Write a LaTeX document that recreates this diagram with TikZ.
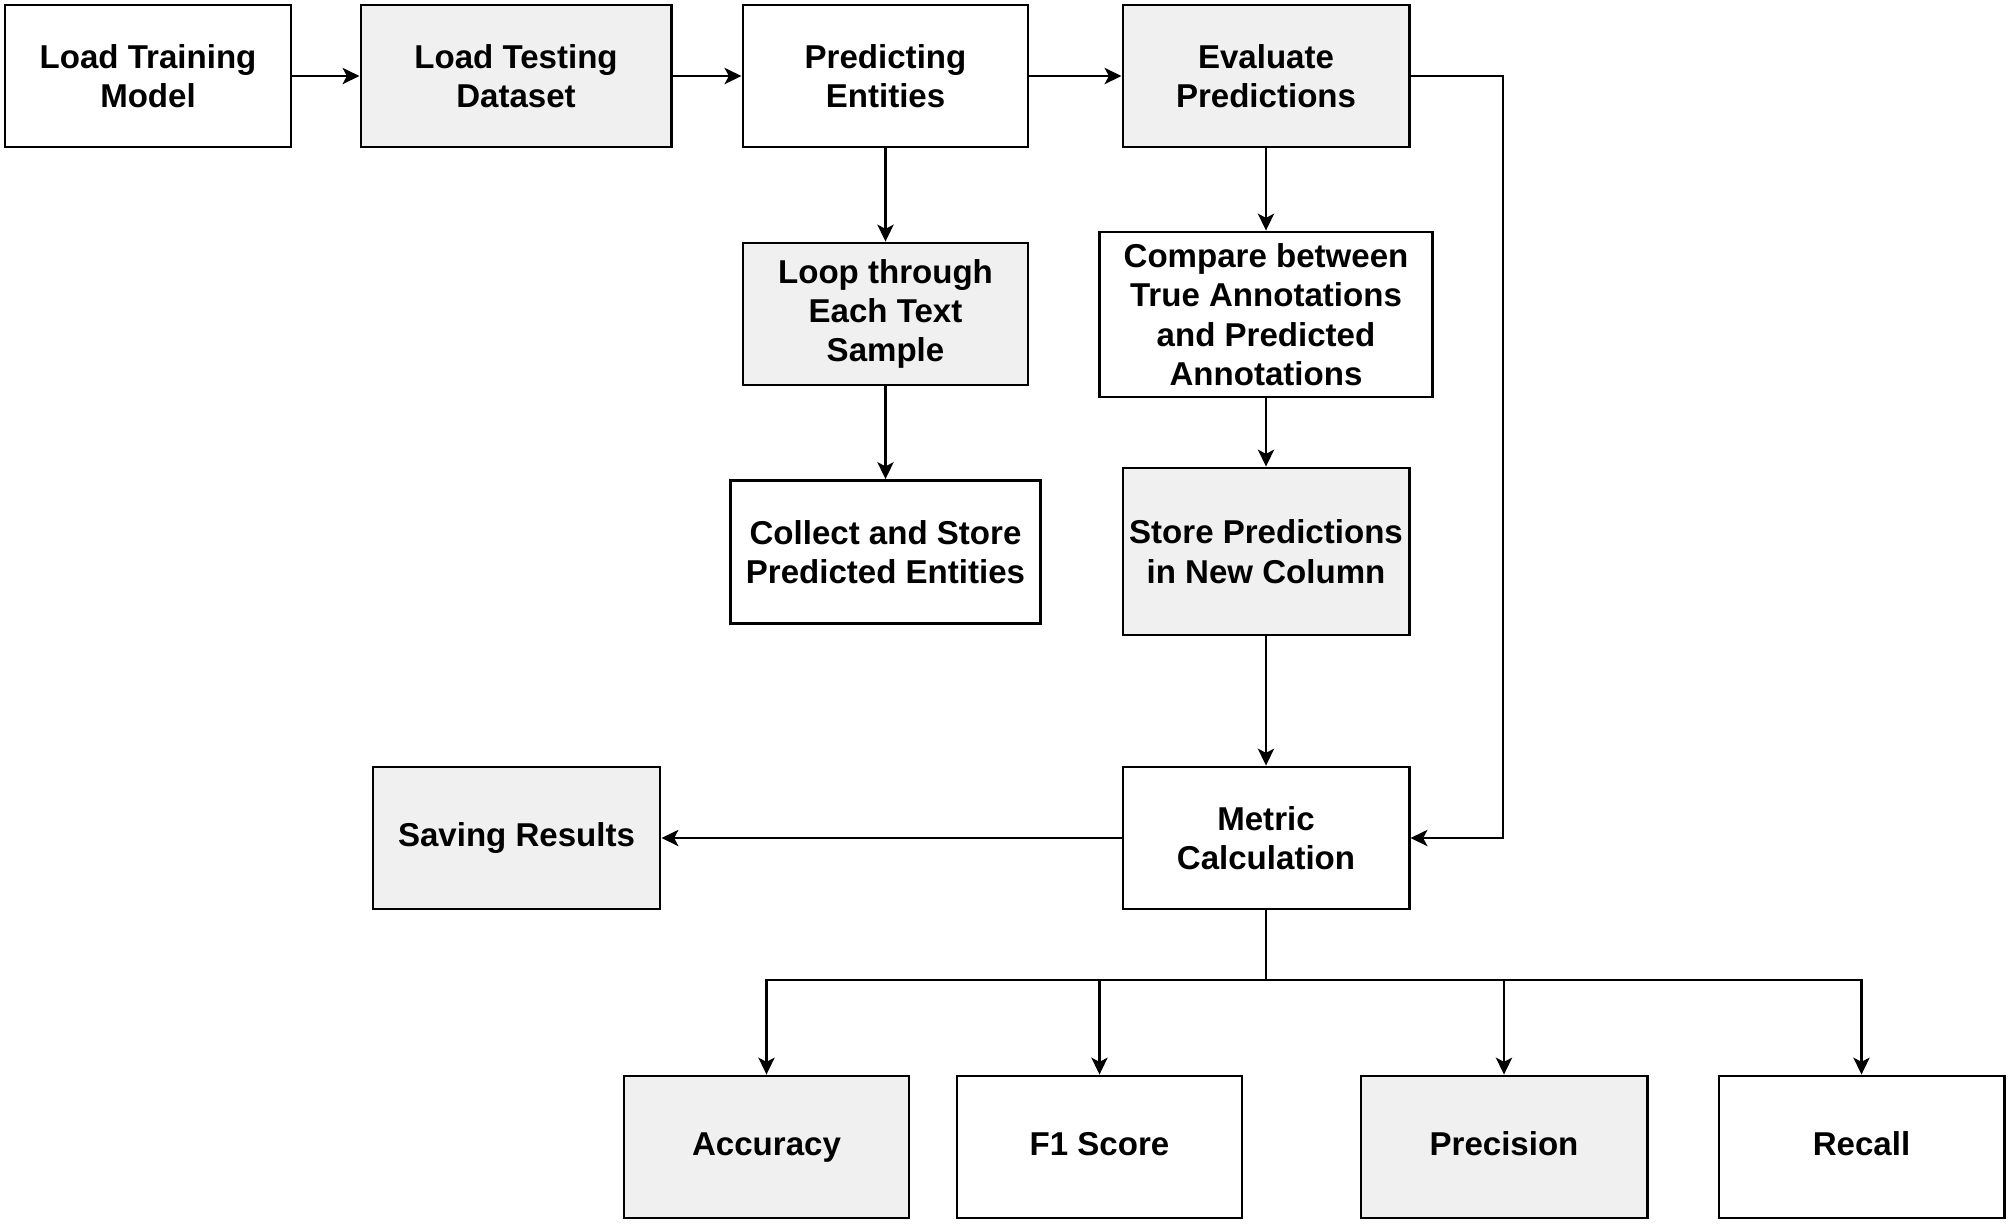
\documentclass[tikz,border=0pt]{standalone}
\usepackage{fontspec}
\setmainfont{Liberation Sans}
\usetikzlibrary{arrows.meta}
\definecolor{boxgray}{HTML}{F0F0F0}
\begin{document}
\begin{tikzpicture}[x=0.01cm,y=-0.01cm,
  box/.style={draw=black, line width=0.8pt, fill=white, align=center, inner sep=0pt,
    font=\bfseries\fontsize{9.4}{11.2}\selectfont, minimum height=1.42cm, minimum width=2.86cm},
  gbox/.style={box, fill=boxgray},
  oneline/.style={text height=7pt, text depth=2pt},
  arr/.style={-{Stealth[length=4.8pt,width=4.6pt,inset=1.2pt]}, line width=0.7pt},
  plain/.style={line width=0.7pt}]
\useasboundingbox (0,0) rectangle (2008,1229);
\node[box] (ltm) at (148,76) {Load Training\\Model};
\node[gbox, minimum width=3.10cm] (ltd) at (516,76) {Load Testing\\Dataset};
\node[box, minimum width=2.85cm] (pe) at (885.5,76) {Predicting\\Entities};
\node[gbox] (ev) at (1266,76) {Evaluate\\Predictions};
\node[gbox, minimum width=2.85cm] (loop) at (885.5,314) {Loop through\\Each Text\\Sample};
\node[box, minimum width=3.10cm, minimum height=1.43cm] (col) at (885.5,552) {Collect and Store\\Predicted Entities};
\node[box, minimum width=3.33cm, minimum height=1.65cm] (cmp) at (1266,314.5) {Compare between\\True Annotations\\and Predicted\\Annotations};
\node[gbox, minimum height=1.67cm] (st) at (1266,551.5) {Store Predictions\\in New Column};
\node[box] (mc) at (1266,838) {Metric\\Calculation};
\node[gbox, oneline, minimum width=2.87cm] (sv) at (516.5,838) {Saving Results};
\node[gbox, oneline, minimum width=2.85cm] (acc) at (766.5,1147) {Accuracy};
\node[box, oneline, minimum width=2.85cm] (f1) at (1099.5,1147) {F1 Score};
\node[gbox, oneline, minimum width=2.86cm] (pr) at (1504,1147) {Precision};
\node[box, oneline, minimum width=2.85cm] (rc) at (1861.5,1147) {Recall};
\coordinate (rt) at (1503,76);
\coordinate (br) at (1266,980);
\draw[arr] (ltm) -- (ltd);
\draw[arr] (ltd) -- (pe);
\draw[arr] (pe) -- (ev);
\draw[arr] (pe) -- (loop);
\draw[arr] (loop) -- (col);
\draw[arr] (ev) -- (cmp);
\draw[arr] (cmp) -- (st);
\draw[arr] (st) -- (mc);
\draw[arr] (mc) -- (sv);
\draw[arr] (ev.east) -- (rt) |- (mc.east);
\draw[plain] (mc.south) -- (br);
\draw[arr] (br) -| (acc.north);
\draw[arr] (br) -| (f1.north);
\draw[arr] (br) -| (pr.north);
\draw[arr] (br) -| (rc.north);
\end{tikzpicture}
\end{document}
